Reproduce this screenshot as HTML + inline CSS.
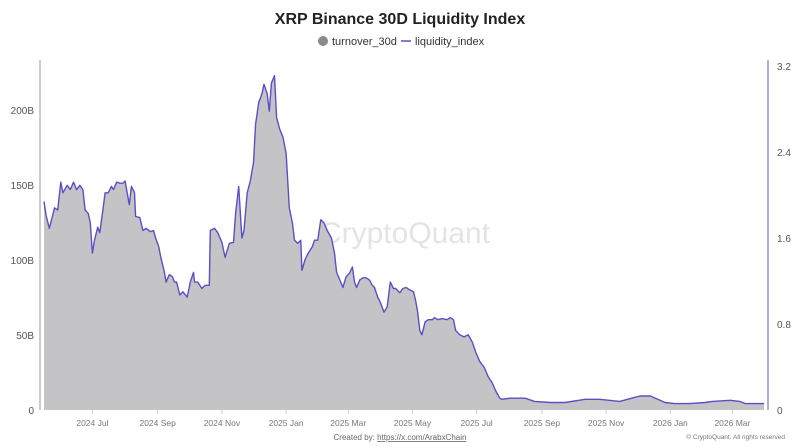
<!DOCTYPE html>
<html><head><meta charset="utf-8"><style>
html,body{margin:0;padding:0;background:#fff;}
svg{display:block;font-family:"Liberation Sans",sans-serif;}
</style></head><body>
<svg id="chart" width="800" height="447" viewBox="0 0 800 447">
<text x="400" y="24" text-anchor="middle" font-size="16" font-weight="bold" fill="#222">XRP Binance 30D Liquidity Index</text>
<g>
<g><circle cx="323" cy="41" r="5" fill="#8a8a8c"/><text x="332" y="45" font-size="11" fill="#333">turnover_30d</text></g>
<g><line x1="401" y1="41" x2="411" y2="41" stroke="#5b4fc4" stroke-width="1.5"/><text x="415" y="45" font-size="11" fill="#333">liquidity_index</text></g>
</g>
<text x="405" y="243" text-anchor="middle" font-size="30" fill="#e4e4e6">CryptoQuant</text>
<g id="plot"></g>
<line x1="40" y1="60" x2="40" y2="410" stroke="#bbb" stroke-width="1.5"/>
<line x1="768" y1="60" x2="768" y2="410" stroke="#9a90dc" stroke-width="1.5"/>
<g id="axes"></g>
<text x="400" y="440" text-anchor="middle" font-size="8" fill="#666">Created by: <tspan text-decoration="underline">https://x.com/ArabxChain</tspan></text>
<text x="785" y="439" text-anchor="end" font-size="6.5" fill="#777">© CryptoQuant. All rights reserved</text>
</svg>
<script>
const startDate = "2024-05-16";
const days = [0,2,5,8,10,13,16,18,22,25,28,31,34,37,39,42,44,46,48,51,53,56,58,61,64,66,69,72,75,77,81,83,86,87,91,94,97,101,104,106,109,111,114,116,119,122,124,126,129,132,136,139,142,143,146,150,153,157,158,162,165,169,172,176,180,182,185,188,190,193,196,199,201,204,207,209,212,214,216,219,221,224,227,230,233,236,238,241,244,245,248,251,255,257,260,263,266,269,273,276,278,281,284,287,290,293,295,297,300,303,306,309,312,314,317,320,323,326,329,332,334,338,341,344,347,351,353,355,357,359,362,365,369,371,374,378,383,386,389,391,395,399,403,407,410,414,418,422,426,429,433,435,443,457,466,481,495,514,528,547,566,576,590,599,613,628,635,652,661,666,675,684];
const turnover = [139,130,121,129,135,133,152,145,150,147,152,147,150,147,133,131,125,105,113,122,118,133,145,145,149,147,152,151,151,153,137,149,145,129,128,120,121,119,120,115,109,102,93,85,90,89,85,85,77,79,75,85,92,85,85,81,83,83,120,121,118,112,102,111,112,131,149,115,120,145,153,165,191,205,211,217,211,199,218,223,195,187,182,171,135,125,113,111,113,93,100,105,109,113,113,127,125,120,115,105,92,87,82,89,91,95,85,82,87,88,88,87,83,82,75,71,65,69,85,81,81,78,81,82,80,79,73,65,53,50,59,60,60,62,60,61,60,62,60,53,50,49,50,45,39,32,29,22,18,13,8,7,8,8,6,5,5,7,7,6,9,9,5,4.5,4.5,5,6,6.5,6,4.5,4,4];
const liquidity = [1.94,1.81,1.69,1.80,1.88,1.86,2.12,2.02,2.09,2.05,2.12,2.05,2.09,2.05,1.86,1.83,1.74,1.46,1.58,1.70,1.65,1.86,2.02,2.02,2.08,2.05,2.12,2.11,2.11,2.13,1.91,2.08,2.02,1.80,1.79,1.67,1.69,1.66,1.67,1.60,1.52,1.42,1.30,1.19,1.26,1.24,1.19,1.19,1.07,1.10,1.05,1.19,1.28,1.19,1.19,1.13,1.16,1.16,1.67,1.69,1.65,1.56,1.42,1.55,1.56,1.83,2.08,1.60,1.67,2.02,2.13,2.30,2.66,2.86,2.94,3.03,2.94,2.78,3.04,3.11,2.72,2.61,2.54,2.39,1.88,1.74,1.58,1.55,1.58,1.30,1.40,1.46,1.52,1.58,1.58,1.77,1.74,1.67,1.60,1.46,1.28,1.21,1.14,1.24,1.27,1.33,1.19,1.14,1.21,1.23,1.23,1.21,1.16,1.14,1.05,0.99,0.91,0.96,1.19,1.13,1.13,1.09,1.13,1.14,1.12,1.10,1.02,0.91,0.74,0.70,0.82,0.84,0.84,0.86,0.84,0.85,0.84,0.86,0.84,0.74,0.70,0.68,0.70,0.63,0.54,0.45,0.40,0.31,0.25,0.18,0.11,0.10,0.11,0.11,0.08,0.07,0.07,0.10,0.10,0.08,0.13,0.13,0.07,0.06,0.06,0.07,0.08,0.09,0.08,0.06,0.06,0.06];
const leftTicks = [0,50,100,150,200];
const leftTickLabels = ["0","50B","100B","150B","200B"];
const rightTicks = [0,0.8,1.6,2.4,3.2];
const rightTickLabels = ["0","0.8","1.6","2.4","3.2"];
const monthTicks = ["2024-07-01","2024-09-01","2024-11-01","2025-01-01","2025-03-01","2025-05-01","2025-07-01","2025-09-01","2025-11-01","2026-01-01","2026-03-01"];
const monthLabels = ["2024 Jul","2024 Sep","2024 Nov","2025 Jan","2025 Mar","2025 May","2025 Jul","2025 Sep","2025 Nov","2026 Jan","2026 Mar"];

const NS="http://www.w3.org/2000/svg";
const t0 = Date.parse(startDate);
const X0=44, PXD=640/608, Y0=410;
const xDay = d => X0 + d*PXD;
const xDate = s => xDay((Date.parse(s)-t0)/86400000);
const yL = v => Y0 - v*1.5;
const yR = v => Y0 - v*(344/3.2);
function mk(tag, attrs, parent){const e=document.createElementNS(NS,tag);for(const k in attrs)e.setAttribute(k,attrs[k]);parent.appendChild(e);return e;}
const plot=document.getElementById('plot'), axes=document.getElementById('axes');
const n=Math.min(days.length,turnover.length);
let d="M"+xDay(days[0]).toFixed(1)+","+Y0;
for(let i=0;i<n;i++) d+=" L"+xDay(days[i]).toFixed(1)+","+yL(turnover[i]).toFixed(1);
d+=" L"+xDay(days[n-1]).toFixed(1)+","+Y0+" Z";
const area=mk('path',{d:d,fill:'#c4c3c6'},plot);


const m=Math.min(days.length,liquidity.length);
let l="";
for(let i=0;i<m;i++) l+=(i?" L":"M")+xDay(days[i]).toFixed(1)+","+yR(liquidity[i]).toFixed(1);
const line=mk('path',{d:l,fill:'none',stroke:'#5b4fc4','stroke-width':1.4,'stroke-linejoin':'round'},plot);


leftTicks.forEach((v,i)=>{const t=mk('text',{x:34,y:yL(v)+4,'text-anchor':'end','font-size':10,fill:'#555'},axes);t.textContent=leftTickLabels[i];

});
rightTicks.forEach((v,i)=>{const t=mk('text',{x:777,y:yR(v)+4,'font-size':10,fill:'#555'},axes);t.textContent=rightTickLabels[i];

});
monthTicks.forEach((s,i)=>{const x=xDate(s);
const tk=mk('line',{x1:x,y1:410,x2:x,y2:414,stroke:'#ccc'},axes);


const t=mk('text',{x:x,y:426,'text-anchor':'middle','font-size':8.5,fill:'#777'},axes);t.textContent=monthLabels[i];

});
</script>
</body></html>
